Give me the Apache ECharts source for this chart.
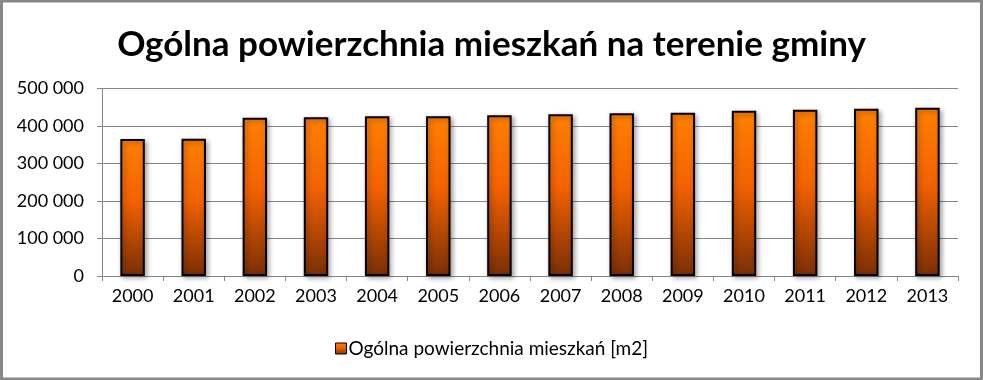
<!DOCTYPE html>
<html>
<head>
<meta charset="utf-8">
<script src="https://cdn.jsdelivr.net/npm/echarts@6/dist/echarts.min.js"></script>
<style>
html,body{margin:0;padding:0;background:#fff;}
#c{width:983px;height:380px;}
</style>
</head>
<body>
<div id="c"></div>
<script>
const titleText = 'Ogólna powierzchnia mieszkań na terenie gminy';
const seriesName = 'Ogólna powierzchnia mieszkań [m2]';
const years = ['2000','2001','2002','2003','2004','2005','2006','2007','2008','2009','2010','2011','2012','2013'];
const areaValues = [365500, 365800, 422200, 423200, 425900, 426000, 428600, 431200, 433900, 435500, 440800, 443500, 446200, 448900];
const yTicks = [0, 100000, 200000, 300000, 400000, 500000];

const chart = echarts.init(document.getElementById('c'), null, {renderer: 'canvas'});
const barGrad = new echarts.graphic.LinearGradient(0, 0, 0, 1, [
  {offset: 0, color: '#FF8000'},
  {offset: 0.45, color: '#F36200'},
  {offset: 1, color: '#7A2E06'}
]);
const fmt = v => {
  const s = String(v);
  return s.replace(/\B(?=(\d{3})+(?!\d))/g, ' ');
};
chart.setOption({
  animation: false,
  backgroundColor: '#fff',
  title: {
    text: titleText,
    left: 'center',
    top: 22,
    textStyle: {fontFamily: 'Lato', fontWeight: 'bold', fontSize: 35, color: '#000'}
  },
  legend: {
    bottom: 17,
    left: 'center',
    itemWidth: 11,
    itemHeight: 11,
    itemGap: 10,
    icon: 'rect',
    textStyle: {fontFamily: 'Lato', fontSize: 19, color: '#000', padding: [0, 0, 0, -3]},
    data: [{name: seriesName, itemStyle: {color: barGrad, borderColor: '#000', borderWidth: 1}}]
  },
  grid: {left: 102, right: 25, top: 88.5, bottom: 104, containLabel: false},
  xAxis: {
    type: 'category',
    data: years,
    boundaryGap: true,
    axisLine: {lineStyle: {color: '#868686', width: 1}},
    axisTick: {show: true, length: 5, lineStyle: {color: '#868686'}},
    axisLabel: {fontFamily: 'Lato', fontSize: 18, color: '#000', margin: 11}
  },
  yAxis: {
    type: 'value',
    min: yTicks[0],
    max: yTicks[yTicks.length - 1],
    interval: yTicks[1] - yTicks[0],
    axisLine: {show: true, lineStyle: {color: '#868686', width: 1}},
    axisTick: {show: true, length: 5, lineStyle: {color: '#868686'}},
    splitLine: {lineStyle: {color: '#868686', width: 1}},
    axisLabel: {fontFamily: 'Lato', fontSize: 18, color: '#000', margin: 18, formatter: fmt}
  },
  series: [{
    name: seriesName,
    type: 'bar',
    data: areaValues,
    barWidth: '40%',
    itemStyle: {
      color: barGrad,
      borderColor: '#000',
      borderWidth: 2,
      shadowBlur: 5,
      shadowOffsetX: 2,
      shadowOffsetY: 2,
      shadowColor: 'rgba(0,0,0,0.35)'
    }
  }],
  graphic: [{
    type: 'rect',
    shape: {x: 1.5, y: 1, width: 980, height: 378},
    style: {fill: 'none', stroke: '#878787', lineWidth: 3},
    silent: true,
    z: 100
  }]
});
</script>
</body>
</html>
